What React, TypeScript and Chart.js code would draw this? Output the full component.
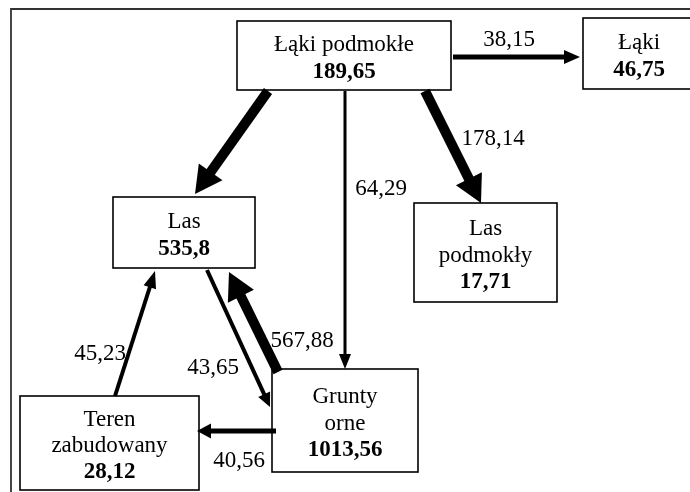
import React, { useEffect, useRef } from "react";
import { Chart, registerables } from "chart.js";

Chart.register(...registerables);

// ---- values ----
const nodeNames: string[][] = [
  ["Łąki podmokłe"],
  ["Łąki"],
  ["Las"],
  ["Las", "podmokły"],
  ["Grunty", "orne"],
  ["Teren", "zabudowany"],
];
const nodeValues: number[] = [189.65, 46.75, 535.8, 17.71, 1013.56, 28.12];

const flowFrom: number[] = [0, 0, 0, 0, 4, 2, 5, 4];
const flowTo: number[] = [1, 2, 3, 4, 2, 4, 2, 5];
const flowValues: (number | null)[] = [38.15, null, 178.14, 64.29, 567.88, 43.65, 45.23, 40.56];

// ---- layout (reference coordinate units) ----
const nodeBoxes: number[][] = [
  [237, 21, 451, 90],
  [583, 18, 697, 89],
  [113, 197, 255, 268],
  [414, 203, 557, 302],
  [272, 369, 418, 472],
  [20, 396, 199, 490],
];
// start x, start y, tip x, tip y, shaft width, head length, head width
const flowGeom: number[][] = [
  [453, 57, 580, 57, 5, 16, 14],
  [268, 91, 195, 194, 10, 27, 29],
  [425, 91, 481, 203, 10, 27, 29],
  [345, 91, 345, 369, 3, 15, 12],
  [278, 372, 229, 272, 10, 27, 29],
  [207, 270, 270, 407, 4, 14, 13],
  [115, 396, 155, 271, 4, 17, 13],
  [276, 431, 197, 431, 5, 14, 15],
];
const labelPos: number[][] = [
  [509, 40],
  [0, 0],
  [493, 139],
  [381, 189],
  [302, 341],
  [213, 368],
  [100, 354],
  [239, 461],
];

const fmt = (v: number) => String(v).replace(".", ",");
const FONT = '"Liberation Serif", "Times New Roman", serif';

const diagramPlugin = {
  id: "flowDiagram",
  afterDatasetsDraw(chart: any) {
    const ctx: CanvasRenderingContext2D = chart.ctx;
    const xs = chart.scales.x;
    const ys = chart.scales.y;
    const px = (v: number) => xs.getPixelForValue(v);
    const py = (v: number) => ys.getPixelForValue(v);

    ctx.save();
    // frame
    ctx.strokeStyle = "#333";
    ctx.lineWidth = 1.8;
    ctx.beginPath();
    ctx.moveTo(px(11), py(500));
    ctx.lineTo(px(11), py(9));
    ctx.lineTo(px(700), py(9));
    ctx.stroke();

    // boxes
    nodeBoxes.forEach((b, i) => {
      const x0 = px(b[0]), y0 = py(b[1]), x1 = px(b[2]), y1 = py(b[3]);
      ctx.fillStyle = "#fff";
      ctx.fillRect(x0, y0, x1 - x0, y1 - y0);
      ctx.strokeStyle = "#000";
      ctx.lineWidth = 1.6;
      ctx.strokeRect(x0, y0, x1 - x0, y1 - y0);
      const lines = [...nodeNames[i], fmt(nodeValues[i])];
      const cx = (x0 + x1) / 2;
      const cy = (y0 + y1) / 2 + 3;
      const lh = 26.5;
      ctx.fillStyle = "#000";
      ctx.textAlign = "center";
      ctx.textBaseline = "middle";
      lines.forEach((t, k) => {
        const isVal = k === lines.length - 1;
        ctx.font = (isVal ? "bold " : "") + "23px " + FONT;
        const tx = b[0] > 560 ? px(639) : cx;
        ctx.fillText(t, tx, cy + (k - (lines.length - 1) / 2) * lh);
      });
    });

    // arrows
    ctx.fillStyle = "#000";
    ctx.strokeStyle = "#000";
    flowFrom.forEach((_, i) => {
      const [sx, sy, tx, ty, w, hl, hw] = flowGeom[i];
      const x0 = px(sx), y0 = py(sy), x1 = px(tx), y1 = py(ty);
      const dx = x1 - x0, dy = y1 - y0;
      const len = Math.hypot(dx, dy);
      const ux = dx / len, uy = dy / len;
      const bx = x1 - ux * hl, by = y1 - uy * hl;
      ctx.lineWidth = w;
      ctx.lineCap = "butt";
      ctx.beginPath();
      ctx.moveTo(x0, y0);
      ctx.lineTo(bx + ux * 1, by + uy * 1);
      ctx.stroke();
      const nx = -uy, ny = ux;
      ctx.beginPath();
      ctx.moveTo(x1, y1);
      ctx.lineTo(bx + nx * hw / 2, by + ny * hw / 2);
      ctx.lineTo(bx - nx * hw / 2, by - ny * hw / 2);
      ctx.closePath();
      ctx.fill();
    });

    // flow labels
    ctx.font = "23px " + FONT;
    ctx.fillStyle = "#000";
    ctx.textAlign = "center";
    ctx.textBaseline = "middle";
    flowValues.forEach((v, i) => {
      if (v === null) return;
      ctx.fillText(fmt(v), px(labelPos[i][0]), py(labelPos[i][1]));
    });
    ctx.restore();
  },
};

export default function App() {
  const ref = useRef<HTMLCanvasElement | null>(null);
  useEffect(() => {
    if (!ref.current) return;
    const points = nodeBoxes.map((b) => ({ x: (b[0] + b[2]) / 2, y: (b[1] + b[3]) / 2 }));
    const chart = new Chart(ref.current, {
      type: "scatter",
      data: {
        datasets: [
          {
            label: "nodes",
            data: points,
            pointRadius: 0,
            pointHoverRadius: 0,
          },
        ],
      },
      options: {
        animation: false,
        responsive: false,
        events: [],
        layout: { padding: 0 },
        plugins: { legend: { display: false }, tooltip: { enabled: false } },
        scales: {
          x: { type: "linear", min: 0, max: 690, display: false },
          y: { type: "linear", min: 0, max: 492, reverse: true, display: false },
        },
      },
      plugins: [diagramPlugin],
    });
    return () => chart.destroy();
  }, []);
  return (
    <div style={{ position: "fixed", left: 0, top: 0, width: 690, height: 492, background: "#fff" }}>
      <canvas ref={ref} width={690} height={492} style={{ display: "block" }} />
    </div>
  );
}
